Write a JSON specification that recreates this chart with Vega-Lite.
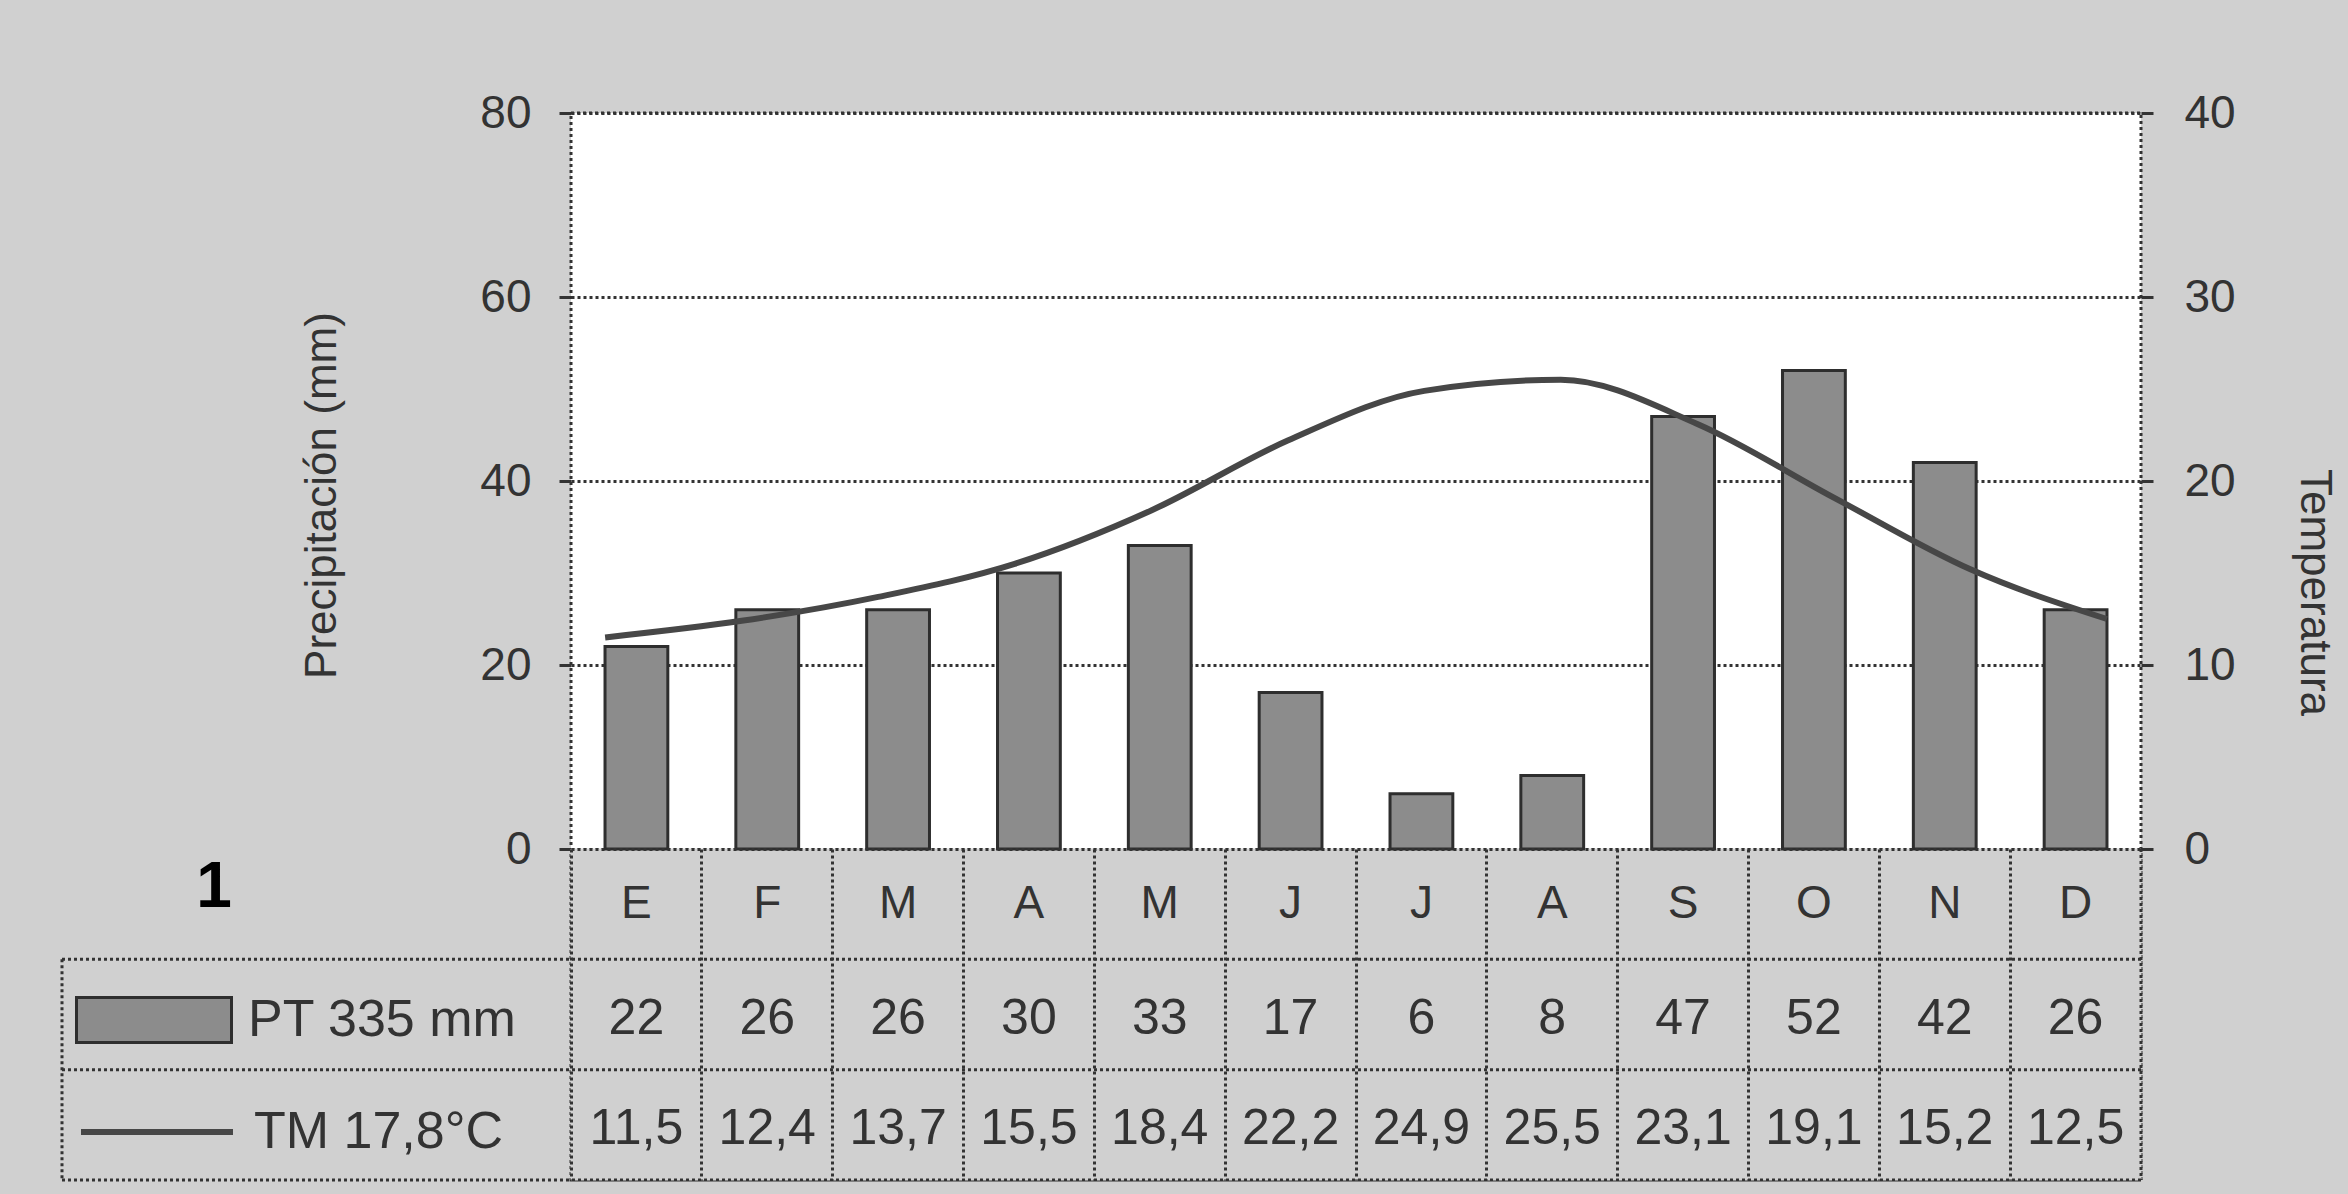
{
  "$schema": "https://vega.github.io/schema/vega-lite/v6.json",
  "width": 1570,
  "height": 1067,
  "autosize": {"type": "none"},
  "padding": {"left": 571, "top": 113, "right": 207, "bottom": 14},
  "background": "#d0d0d0",
  "title": {"text": "1", "orient": "bottom", "anchor": "start", "frame": "group", "offset": 0, "dx": -357, "dy": -275, "fontSize": 64, "fontWeight": "bold", "color": "#000000", "align": "center", "baseline": "alphabetic", "font": "Liberation Sans"},
  "config": {
    "font": "Liberation Sans",
    "view": {"fill": "white", "stroke": "#333333", "strokeWidth": 3, "strokeDash": [3, 3]},
    "locale": {"number": {"decimal": ",", "thousands": ".", "grouping": [3], "currency": ["", " €"]}}
  },
  "datasets": {
    "clima": [
      {"mes": "Ene", "letra": "E", "pp": 22, "t": 11.5},
      {"mes": "Feb", "letra": "F", "pp": 26, "t": 12.4},
      {"mes": "Mar", "letra": "M", "pp": 26, "t": 13.7},
      {"mes": "Abr", "letra": "A", "pp": 30, "t": 15.5},
      {"mes": "May", "letra": "M", "pp": 33, "t": 18.4},
      {"mes": "Jun", "letra": "J", "pp": 17, "t": 22.2},
      {"mes": "Jul", "letra": "J", "pp": 6, "t": 24.9},
      {"mes": "Ago", "letra": "A", "pp": 8, "t": 25.5},
      {"mes": "Sep", "letra": "S", "pp": 47, "t": 23.1},
      {"mes": "Oct", "letra": "O", "pp": 52, "t": 19.1},
      {"mes": "Nov", "letra": "N", "pp": 42, "t": 15.2},
      {"mes": "Dic", "letra": "D", "pp": 26, "t": 12.5}
    ],
    "lineas": [{"linea": "l1"}, {"linea": "l2"}, {"linea": "l3"}]
  },
  "layer": [
    {
      "data": {"name": "clima"},
      "mark": {"type": "rect", "color": "#d0d0d0", "stroke": "#d0d0d0", "strokeWidth": 1},
      "encoding": {
        "x": {"field": "mes", "type": "nominal", "sort": null,
          "scale": {"domain": ["Ene","Feb","Mar","Abr","May","Jun","Jul","Ago","Sep","Oct","Nov","Dic"], "paddingInner": 0, "paddingOuter": 0},
          "axis": {"orient": "bottom", "offset": -331, "domain": true, "domainColor": "#333333", "domainDash": [3, 3], "domainWidth": 3, "ticks": true, "tickSize": 331, "tickColor": "#333333", "tickDash": [3, 3], "tickWidth": 3, "bandPosition": 0, "labels": false, "grid": false, "title": null, "zindex": 1}},
        "y": {"datum": "l0", "type": "ordinal", "scale": {"type": "point", "domain": ["l0","l1","l2","l3"], "range": [736, 1067], "padding": 0}, "axis": null},
        "y2": {"datum": "l3"}
      }
    },
    {
      "data": {"name": "clima"},
      "mark": {"type": "bar", "stroke": "#2e2e2e", "strokeWidth": 3},
      "encoding": {
        "x": {"field": "mes", "type": "nominal", "sort": null,
          "scale": {"domain": ["Ene","Feb","Mar","Abr","May","Jun","Jul","Ago","Sep","Oct","Nov","Dic"], "paddingInner": 0.52, "paddingOuter": 0.26},
          "axis": null},
        "y": {"field": "pp", "type": "quantitative",
          "scale": {"domain": [0, 80], "range": [736, 0], "nice": false},
          "axis": {"orient": "left", "values": [0, 20, 40, 60, 80], "grid": true, "gridColor": "#333333", "gridDash": [3, 3], "gridWidth": 3, "domain": false, "ticks": true, "tickSize": 12, "tickColor": "#333333", "tickWidth": 3, "labelFontSize": 46, "labelColor": "#333333", "labelPadding": 28, "title": "Precipitación (mm)", "titleFontSize": 44, "titleFontWeight": "normal", "titleColor": "#333333", "titleAngle": -90, "titleX": -249, "titleY": 382, "titleAlign": "center", "titleBaseline": "middle"}},
        "color": {"datum": "PT 335 mm", "scale": {"range": ["#8c8c8c"]},
          "legend": {"orient": "none", "legendX": -496, "legendY": 828, "title": null, "padding": 0, "symbolType": "M-1,-0.29H1V0.29H-1Z", "symbolSize": 24025, "symbolStrokeColor": "#2e2e2e", "symbolStrokeWidth": 3, "symbolOpacity": 1, "labelFontSize": 52, "labelLimit": 600, "labelColor": "#333333", "labelOffset": 15, "labelFont": "Liberation Sans"}}
      }
    },
    {
      "data": {"name": "clima"},
      "mark": {"type": "line", "interpolate": "monotone", "strokeWidth": 6},
      "encoding": {
        "x": {"field": "mes", "type": "nominal", "sort": null,
          "scale": {"type": "point", "domain": ["Ene","Feb","Mar","Abr","May","Jun","Jul","Ago","Sep","Oct","Nov","Dic"], "padding": 0.25},
          "axis": null},
        "y": {"field": "t", "type": "quantitative",
          "scale": {"domain": [0, 40], "range": [736, 0], "nice": false},
          "axis": {"orient": "right", "values": [0, 10, 20, 30, 40], "grid": false, "domain": false, "ticks": true, "tickSize": 12, "tickColor": "#333333", "tickWidth": 3, "labelFontSize": 46, "labelColor": "#333333", "labelPadding": 31, "title": "Temperatura", "titleFontSize": 44, "titleFontWeight": "normal", "titleColor": "#333333", "titleAngle": 90, "titleX": 172, "titleY": 479, "titleAlign": "center", "titleBaseline": "middle"}},
        "stroke": {"datum": "TM 17,8°C", "scale": {"range": ["#474747"]},
          "legend": {"orient": "none", "legendX": -493, "legendY": 940, "title": null, "padding": 0, "symbolType": "stroke", "symbolSize": 23104, "symbolStrokeWidth": 6, "labelFontSize": 52, "labelLimit": 600, "labelColor": "#333333", "labelOffset": 18, "labelFont": "Liberation Sans"}}
      }
    },
    {
      "data": {"name": "clima"},
      "mark": {"type": "text", "fontSize": 46, "color": "#333333"},
      "encoding": {
        "x": {"field": "mes", "type": "nominal", "sort": null,
          "scale": {"domain": ["Ene","Feb","Mar","Abr","May","Jun","Jul","Ago","Sep","Oct","Nov","Dic"], "paddingInner": 0, "paddingOuter": 0}, "axis": null},
        "y": {"datum": "meses", "type": "nominal", "scale": {"type": "band", "domain": ["meses","PT","TM"], "range": [736, 1067], "paddingInner": 0, "paddingOuter": 0}, "axis": null},
        "text": {"field": "letra"}
      }
    },
    {
      "data": {"name": "clima"},
      "mark": {"type": "text", "fontSize": 50, "color": "#333333", "dy": 4},
      "encoding": {
        "x": {"field": "mes", "type": "nominal", "sort": null,
          "scale": {"domain": ["Ene","Feb","Mar","Abr","May","Jun","Jul","Ago","Sep","Oct","Nov","Dic"], "paddingInner": 0, "paddingOuter": 0}, "axis": null},
        "y": {"datum": "PT", "type": "nominal", "scale": {"type": "band", "domain": ["meses","PT","TM"], "range": [736, 1067], "paddingInner": 0, "paddingOuter": 0}, "axis": null},
        "text": {"field": "pp", "type": "quantitative", "format": "d"}
      }
    },
    {
      "data": {"name": "clima"},
      "mark": {"type": "text", "fontSize": 50, "color": "#333333", "dy": 4},
      "encoding": {
        "x": {"field": "mes", "type": "nominal", "sort": null,
          "scale": {"domain": ["Ene","Feb","Mar","Abr","May","Jun","Jul","Ago","Sep","Oct","Nov","Dic"], "paddingInner": 0, "paddingOuter": 0}, "axis": null},
        "y": {"datum": "TM", "type": "nominal", "scale": {"type": "band", "domain": ["meses","PT","TM"], "range": [736, 1067], "paddingInner": 0, "paddingOuter": 0}, "axis": null},
        "text": {"field": "t", "type": "quantitative", "format": ".1f"}
      }
    },
    {
      "data": {"name": "lineas"},
      "mark": {"type": "rule", "color": "#333333", "strokeWidth": 3, "strokeDash": [3, 3]},
      "encoding": {
        "x": {"datum": 0, "type": "quantitative", "scale": {"domain": [0, 1], "range": [-509, 1570], "nice": false, "zero": false}, "axis": null},
        "x2": {"datum": 1},
        "y": {"field": "linea", "type": "ordinal", "scale": {"type": "point", "domain": ["l0","l1","l2","l3"], "range": [736, 1067], "padding": 0}, "axis": null}
      }
    },
    {
      "data": {"values": [{}]},
      "mark": {"type": "rule", "color": "#333333", "strokeWidth": 3, "strokeDash": [3, 3]},
      "encoding": {
        "x": {"datum": 0, "type": "quantitative", "scale": {"domain": [0, 1], "range": [-509, 1570], "nice": false, "zero": false}, "axis": null},
        "y": {"datum": "l1", "type": "ordinal", "scale": {"type": "point", "domain": ["l0","l1","l2","l3"], "range": [736, 1067], "padding": 0}, "axis": null},
        "y2": {"datum": "l3"}
      }
    },
    {
      "data": {"values": [{}]},
      "mark": {"type": "rule", "color": "#333333", "strokeWidth": 3, "strokeDash": [3, 3]},
      "encoding": {
        "x": {"datum": 1, "type": "quantitative", "scale": {"domain": [0, 1], "range": [-509, 1570], "nice": false, "zero": false}, "axis": null},
        "y": {"datum": "l0", "type": "ordinal", "scale": {"type": "point", "domain": ["l0","l1","l2","l3"], "range": [736, 1067], "padding": 0}, "axis": null},
        "y2": {"datum": "l3"}
      }
    }
  ],
  "resolve": {"scale": {"x": "independent", "y": "independent"}}
}
